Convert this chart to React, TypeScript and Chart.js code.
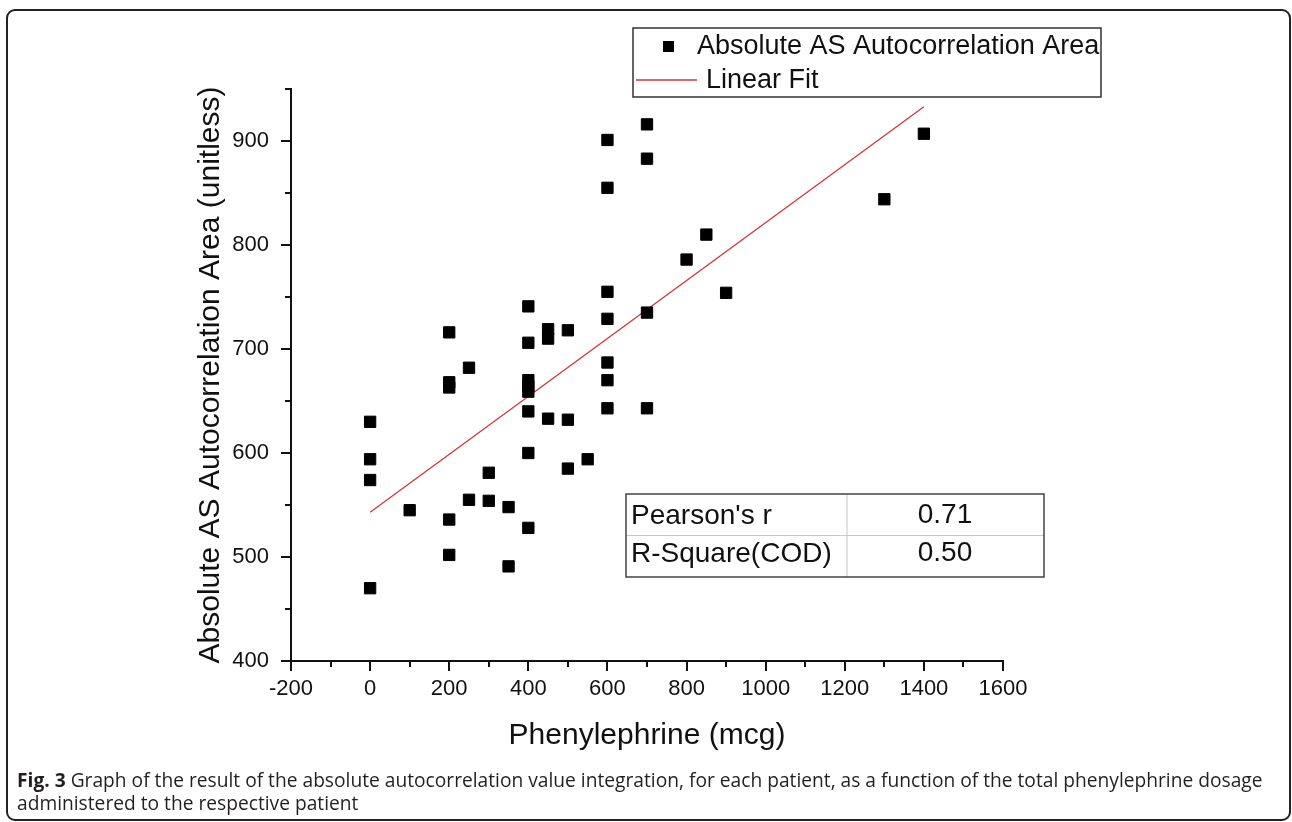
import React, { useEffect, useRef } from "react";
import { Chart, registerables } from "chart.js";

Chart.register(...registerables);

// ---- data ----
const doseX = [
  0, 0, 0, 0,
  100,
  200, 200, 200, 200, 200,
  250, 250,
  300, 300,
  350, 350,
  400, 400, 400, 400, 400, 400, 400, 400,
  450, 450, 450,
  500, 500, 500,
  550,
  600, 600, 600, 600, 600, 600, 600,
  700, 700, 700, 700,
  800, 850, 900, 1300, 1400,
];
const areaY = [
  630, 594, 574, 470,
  545,
  716, 668, 663, 536, 502,
  682, 555,
  581, 554,
  548, 491,
  741, 706, 670, 664, 659, 640, 600, 528,
  719, 710, 633,
  718, 632, 585,
  594,
  901, 855, 755, 729, 687, 670, 643,
  916, 883, 735, 643,
  786, 810, 754, 844, 907,
];
const fitX = [0, 1400];
const fitY = [543, 933];
const xTickValues = [-200, 0, 200, 400, 600, 800, 1000, 1200, 1400, 1600];
const yTickValues = [400, 500, 600, 700, 800, 900];
const statNames = ["Pearson's r", "R-Square(COD)"];
const statValues = ["0.71", "0.50"];

const FONT = '"Liberation Sans", Arial, sans-serif';
const INK = "#111";

const axisTicksPlugin = {
  id: "axisTicks",
  afterDraw(chart: any) {
    const { ctx, chartArea, scales } = chart;
    const x = scales.x;
    const y = scales.y;
    ctx.save();
    ctx.strokeStyle = INK;
    ctx.lineWidth = 2;
    ctx.beginPath();
    for (let v = x.min; v <= x.max + 0.001; v += 100) {
      const px = Math.round(x.getPixelForValue(v));
      const len = v % 200 === 0 ? 10 : 6;
      ctx.moveTo(px, chartArea.bottom);
      ctx.lineTo(px, chartArea.bottom + len);
    }
    for (let v = y.min; v <= y.max + 0.001; v += 50) {
      const py = Math.round(y.getPixelForValue(v));
      const len = v % 100 === 0 ? 10 : 6;
      ctx.moveTo(chartArea.left, py);
      ctx.lineTo(chartArea.left - len, py);
    }
    ctx.stroke();
    ctx.restore();
  },
};

const legendBoxPlugin = {
  id: "legendBox",
  afterDraw(chart: any) {
    const { ctx } = chart;
    const ds = chart.data.datasets;
    ctx.save();
    ctx.strokeStyle = "#333";
    ctx.lineWidth = 1.5;
    ctx.strokeRect(633, 28, 468, 69);
    ctx.fillStyle = "#000";
    ctx.fillRect(663, 41, 11, 11);
    ctx.strokeStyle = ds[1].borderColor;
    ctx.lineWidth = 1.4;
    ctx.beginPath();
    ctx.moveTo(636, 80);
    ctx.lineTo(697, 80);
    ctx.stroke();
    ctx.fillStyle = INK;
    ctx.font = `27px ${FONT}`;
    ctx.textBaseline = "middle";
    ctx.textAlign = "left";
    ctx.fillText(ds[0].label, 697, 47);
    ctx.fillText(ds[1].label, 706, 81);
    ctx.restore();
  },
};

const statsTablePlugin = {
  id: "statsTable",
  afterDraw(chart: any) {
    const { ctx } = chart;
    ctx.save();
    ctx.fillStyle = "#fff";
    ctx.fillRect(626, 494, 418, 83);
    ctx.strokeStyle = "#c8c8c8";
    ctx.lineWidth = 1;
    ctx.beginPath();
    ctx.moveTo(847, 494);
    ctx.lineTo(847, 577);
    ctx.moveTo(626, 535.5);
    ctx.lineTo(1044, 535.5);
    ctx.stroke();
    ctx.strokeStyle = "#444";
    ctx.lineWidth = 1.5;
    ctx.strokeRect(626, 494, 418, 83);
    ctx.fillStyle = INK;
    ctx.font = `28px ${FONT}`;
    ctx.textBaseline = "middle";
    const rowsY = [516, 554];
    statNames.forEach((n, i) => {
      ctx.textAlign = "left";
      ctx.fillText(n, 631, rowsY[i]);
      ctx.textAlign = "center";
      ctx.fillText(statValues[i], 945, rowsY[i] - 1);
    });
    ctx.restore();
  },
};

function ScatterChart() {
  const ref = useRef<HTMLCanvasElement | null>(null);
  useEffect(() => {
    if (!ref.current) return;
    const chart = new Chart(ref.current, {
      type: "scatter",
      data: {
        datasets: [
          {
            type: "scatter",
            label: "Absolute AS Autocorrelation Area",
            data: doseX.map((x, i) => ({ x, y: areaY[i] })),
            pointStyle: "rect",
            pointRadius: 8,
            pointHoverRadius: 8,
            backgroundColor: "#000",
            borderColor: "#000",
            borderWidth: 1,
            order: 1,
          } as any,
          {
            type: "line",
            label: "Linear Fit",
            data: fitX.map((x, i) => ({ x, y: fitY[i] })),
            borderColor: "#d2343a",
            backgroundColor: "#d2343a",
            borderWidth: 1.3,
            pointRadius: 0,
            fill: false,
            showLine: true,
            order: 2,
          } as any,
        ],
      },
      options: {
        animation: false,
        responsive: false,
        devicePixelRatio: 1,
        layout: { padding: { left: 180, top: 89, right: 289, bottom: 16 } },
        plugins: { legend: { display: false }, tooltip: { enabled: false } },
        scales: {
          x: {
            type: "linear",
            min: -200,
            max: 1600,
            afterBuildTicks: (s: any) => {
              s.ticks = xTickValues.map((v) => ({ value: v }));
            },
            afterFit: (s: any) => {
              s.height = 93;
            },
            grid: { display: false, drawTicks: false, tickLength: 0 },
            border: { display: true, color: INK, width: 2 },
            ticks: {
              padding: 15,
              color: INK,
              maxRotation: 0,
              autoSkip: false,
              font: { family: FONT, size: 22 },
              callback: (v: any) => String(v),
            },
            title: {
              display: true,
              text: "Phenylephrine (mcg)",
              color: INK,
              font: { family: FONT, size: 30 },
              padding: { top: 0, bottom: 0 },
            },
          },
          y: {
            type: "linear",
            min: 400,
            max: 950,
            afterBuildTicks: (s: any) => {
              s.ticks = yTickValues.map((v) => ({ value: v }));
            },
            afterFit: (s: any) => {
              s.width = 111;
            },
            grid: { display: false, drawTicks: false, tickLength: 0 },
            border: { display: true, color: INK, width: 2 },
            ticks: {
              padding: 22,
              color: INK,
              autoSkip: false,
              font: { family: FONT, size: 22 },
              callback: (v: any) => String(v),
            },
            title: {
              display: true,
              text: "Absolute AS Autocorrelation Area (unitless)",
              color: INK,
              font: { family: FONT, size: 30 },
              padding: { top: 13, bottom: 0 },
            },
          },
        },
      } as any,
      plugins: [axisTicksPlugin, legendBoxPlugin, statsTablePlugin],
    });
    return () => chart.destroy();
  }, []);
  return (
    <canvas
      ref={ref}
      width={1292}
      height={770}
      style={{ position: "absolute", left: 0, top: 0, width: 1292, height: 770 }}
    />
  );
}

export default function App() {
  return (
    <div
      style={{
        position: "absolute",
        left: 0,
        top: 0,
        width: 1292,
        height: 822,
        overflow: "hidden",
        background: "#fff",
      }}
    >
      <div
        style={{
          position: "absolute",
          left: 6,
          top: 9,
          width: 1285,
          height: 812,
          boxSizing: "border-box",
          border: "2px solid #222",
          borderRadius: 9,
        }}
      />
      <ScatterChart />
      <div
        style={{
          position: "absolute",
          left: 17,
          top: 768,
          fontFamily: '"Open Sans", sans-serif',
          fontSize: 19.2,
          lineHeight: "23px",
          color: "#231f20",
          whiteSpace: "nowrap",
        }}
      >
        <b>Fig. 3</b> Graph of the result of the absolute autocorrelation value integration, for each
        patient, as a function of the total phenylephrine dosage
        <br />
        administered to the respective patient
      </div>
    </div>
  );
}
